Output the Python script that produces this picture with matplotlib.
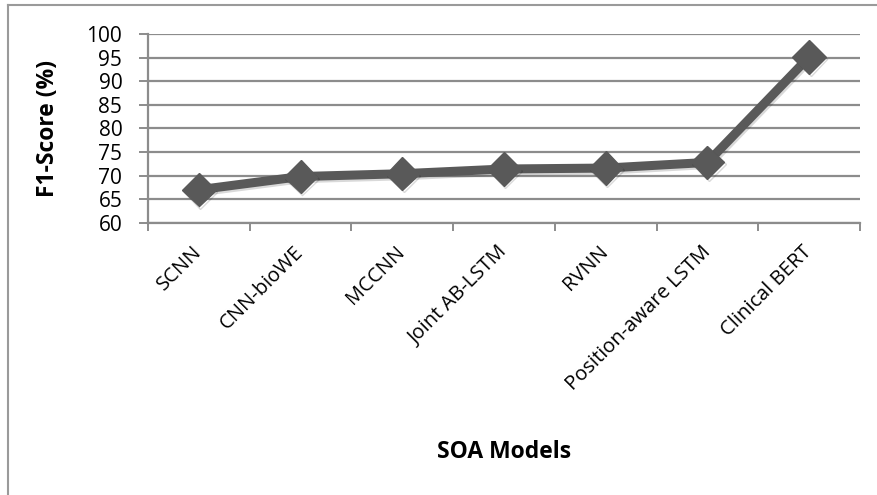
import matplotlib.pyplot as plt
import matplotlib.patheffects as pe
from matplotlib.lines import Line2D

models = ["SCNN", "CNN-bioWE", "MCCNN", "Joint AB-LSTM", "RVNN",
          "Position-aware LSTM", "Clinical BERT"]
f1_scores = [67.0, 69.8, 70.4, 71.4, 71.6, 72.8, 95.2]
y_ticks = [60, 65, 70, 75, 80, 85, 90, 95, 100]

plt.rcParams['font.family'] = ['Open Sans', 'DejaVu Sans']

fig = plt.figure(figsize=(8.77, 4.95), dpi=100)
ax = fig.add_axes([148 / 877, 1 - 222.7 / 495, (860 - 148) / 877, (222.7 - 34.3) / 495])

grid_col = "#8c8c8c"
x = list(range(len(models)))

ax.plot(x, f1_scores, color="#595959", linewidth=6.5, marker="D", markersize=17,
        markeredgecolor="#595959", solid_joinstyle="round", zorder=3,
        path_effects=[pe.SimpleLineShadow(offset=(1, -1.5), shadow_color="black", alpha=0.15),
                      pe.Normal()])

ax.set_ylim(60, 100)
ax.set_yticks(y_ticks)
ax.set_xlim(-0.5, len(models) - 0.5)
ax.yaxis.grid(True, color=grid_col, linewidth=1.6)
ax.set_axisbelow(True)

# tick marks between categories, names at the centres
ax.set_xticks([i - 0.5 for i in range(len(models) + 1)])
ax.set_xticklabels([])
ax.set_xticks(x, minor=True)
ax.set_xticklabels(models, minor=True, rotation=45, ha="right", va="center",
                   rotation_mode="anchor", fontsize=14.5)
ax.tick_params(axis="x", which="minor", length=0, pad=19)
ax.tick_params(axis="x", which="major", length=6, width=1.4, color=grid_col, direction="out")
ax.tick_params(axis="y", length=6.5, width=1.4, color=grid_col, labelsize=15, pad=12)

for side in ["top", "right"]:
    ax.spines[side].set_visible(False)
for side in ["left", "bottom"]:
    ax.spines[side].set_color(grid_col)
    ax.spines[side].set_linewidth(1.6)

ax.set_ylabel("F1-Score (%)", fontsize=16.5, fontweight="bold")
ax.yaxis.set_label_coords(-0.124, 0.5)
fig.text(504 / 877, 1 - 452 / 495, "SOA Models", fontsize=16.5, fontweight="bold",
         ha="center", va="center")

# chart frame (left and top edges)
fig.add_artist(Line2D([8 / 877, 8 / 877], [0, 1 - 5 / 495], color="#9a9a9a", linewidth=1.5))
fig.add_artist(Line2D([8 / 877, 1], [1 - 5 / 495, 1 - 5 / 495], color="#9a9a9a", linewidth=1.5))

fig.savefig("out.png", dpi=100)
